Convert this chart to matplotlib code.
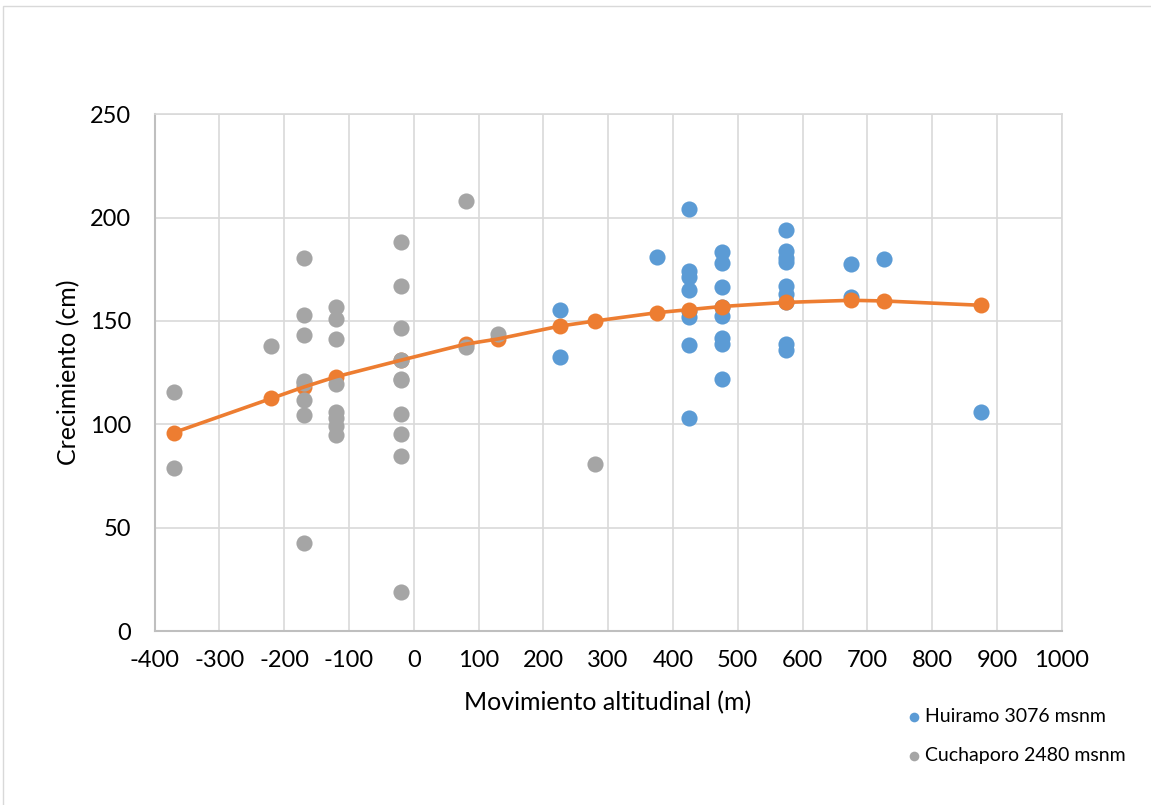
import matplotlib.pyplot as plt
from matplotlib.patches import Rectangle

plt.rcParams['font.family'] = ['Lato', 'DejaVu Sans']
plt.rcParams['axes.unicode_minus'] = False

# Huiramo 3076 msnm
huiramo_x = [225, 225,
             375,
             425, 425, 425, 425, 425, 425, 425, 425,
             475, 475, 475, 475, 475, 475, 475, 475,
             575, 575, 575, 575, 575, 575, 575, 575, 575,
             675, 675,
             725,
             875]
huiramo_y = [155.5, 132.5,
             181,
             204, 174, 171.5, 165, 155, 152, 138.5, 103,
             183.5, 178, 166.5, 157, 152.5, 142, 139, 122,
             194, 184, 180.5, 178.5, 167, 163, 159, 139, 136,
             177.5, 161.5,
             180,
             106]

# Cuchaporo 2480 msnm
cuchaporo_x = [-370, -370,
               -220,
               -170, -170, -170, -170, -170, -170, -170, -170,
               -120, -120, -120, -120, -120, -120, -120, -120,
               -20, -20, -20, -20, -20, -20, -20, -20, -20, -20,
               80, 80,
               130,
               280]
cuchaporo_y = [115.5, 79,
               138,
               180.5, 153, 143, 121, 120, 112, 104.5, 42.5,
               157, 151, 141.5, 119.5, 106, 103, 99, 95,
               188, 167, 146.5, 131, 122, 121.5, 105, 95.5, 84.5, 19,
               208, 137.5,
               143.5,
               81]

# fitted growth curve
fit_x = [-370, -220, -170, -120, -20, 80, 130, 225, 280, 375, 425, 475, 575, 675, 725, 875]
fit_y = [96, 112.5, 118, 123, 131, 138.8, 141.3, 147.5, 150, 154, 155.5, 157, 159, 160, 159.7, 157.6]

blue = '#5B9BD5'
gray = '#A5A5A5'
orange = '#ED7D31'

fig = plt.figure(figsize=(11.51, 8.05), dpi=100)
ax = fig.add_axes([154.5 / 1151, 1 - 631 / 805, (1061.7 - 154.5) / 1151, (631 - 114.3) / 805])

# outer chart frame
fig.patches.append(Rectangle((3 / 1151, -0.1), 1.2, 1 - 6 / 805 + 0.1, transform=fig.transFigure,
                             fill=False, edgecolor='#D9D9D9', linewidth=1.0, zorder=0))

h1 = ax.scatter(huiramo_x, huiramo_y, s=135, color=blue, linewidths=0, zorder=3,
                label='Huiramo 3076 msnm')
ax.plot(fit_x, fit_y, 'o', color=orange, markersize=11.5, markeredgewidth=0, zorder=4)
h2 = ax.scatter(cuchaporo_x, cuchaporo_y, s=135, color=gray, linewidths=0, zorder=5,
                label='Cuchaporo 2480 msnm')
ax.plot(fit_x, fit_y, '-', color=orange, linewidth=2.6, zorder=6, solid_capstyle='round')

ax.set_xlim(-400, 1000)
ax.set_ylim(0, 250)
ax.set_xticks(range(-400, 1001, 100))
ax.set_yticks(range(0, 251, 50))
ax.grid(True, color='#D9D9D9', linewidth=1.2)
ax.set_axisbelow(True)
for side in ['top', 'right']:
    ax.spines[side].set_color('#D9D9D9')
    ax.spines[side].set_linewidth(1.2)
for side in ['left', 'bottom']:
    ax.spines[side].set_color('#BFBFBF')
    ax.spines[side].set_linewidth(1.5)
ax.tick_params(length=0, labelsize=17, colors='black')
ax.tick_params(axis='x', pad=14)
ax.tick_params(axis='y', pad=17)

ax.set_xlabel('Movimiento altitudinal (m)', fontsize=18, labelpad=14)
ax.set_ylabel('Crecimiento (cm)', fontsize=18, labelpad=7)

fig.legend(handles=[h1, h2], loc='upper left', bbox_to_anchor=(895 / 1151, 1 - 698 / 805),
           frameon=False, fontsize=14, markerscale=0.6, handletextpad=0.05,
           labelspacing=1.15, handlelength=1.0, borderpad=0)

fig.savefig('out.png', dpi=100)
